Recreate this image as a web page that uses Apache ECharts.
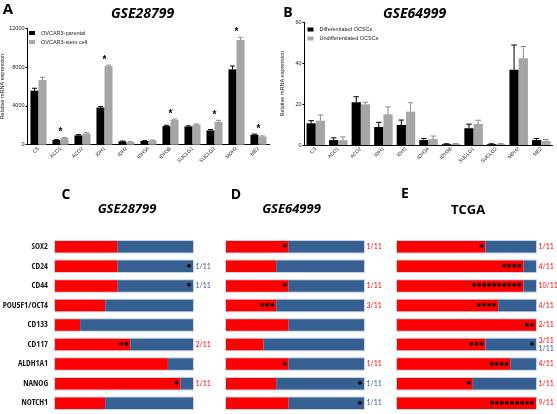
<!DOCTYPE html>
<html><head><meta charset="utf-8">
<script src="https://cdn.jsdelivr.net/npm/echarts@6/dist/echarts.min.js"></script>
<style>html,body{margin:0;padding:0;background:#fff}#c{width:557px;height:414px}</style>
</head><body><div id="c"></div>
<script>
// ---------- Data ----------
const genes = ['CS','ACO1','ACO2','IDH1','IDH2','IDH3A','IDH3B','SUCLG1','SUCLG2','MDH2','ME2'];
// Panel A (GSE28799)
const aParental    = [5570, 480, 960, 3830, 340, 380, 1920, 1880, 1470, 7770, 1030];
const aParentalErr = [250, 60, 80, 100, 40, 40, 80, 60, 100, 340, 70];
const aStem        = [6670, 690, 1160, 8100, 270, 440, 2560, 2080, 2360, 10800, 850];
const aStemErr     = [280, 60, 80, 100, 40, 40, 80, 60, 150, 270, 60];
const aSig = ['', '*', '', '*', '', '', '*', '', '*', '*', '*'];
const aTicks = [0, 4000, 8000, 12000];
// Panel B (GSE64999)
const bDiff       = [10.6, 2.4, 20.9, 8.8, 9.8, 2.4, 0.4, 8.2, 0.4, 36.8, 2.4];
const bDiffErr    = [1.3, 1.1, 2.7, 2.3, 2.4, 0.8, 0.2, 2.0, 0.2, 12.1, 0.8];
const bUndiff     = [11.9, 2.4, 19.9, 15.0, 16.3, 2.9, 0.5, 10.3, 0.5, 42.4, 2.0];
const bUndiffErr  = [2.8, 1.6, 1.0, 3.6, 4.4, 1.5, 0.2, 1.8, 0.2, 5.8, 0.7];
const bTicks = [0, 20, 40, 60];
// Panels C, D, E (counts out of 11)
const markers = ['SOX2','CD24','CD44','POU5F1/OCT4','CD133','CD117','ALDH1A1','NANOG','NOTCH1'];
const TOTAL = 11;
const cHigh = [5, 5, 5, 4, 2, 6, 9, 10, 4];
const dHigh = [5, 4, 5, 4, 5, 3, 5, 4, 5];
const eHigh = [7, 10, 10, 8, 11, 7, 9, 6, 11];
const cSigHigh = [0, 0, 0, 0, 0, 2, 0, 1, 0];
const cSigLow  = [0, 1, 1, 0, 0, 0, 0, 0, 0];
const dSigHigh = [1, 0, 1, 3, 0, 0, 1, 0, 0];
const dSigLow  = [0, 0, 0, 0, 0, 0, 0, 1, 1];
const eSigHigh = [1, 4, 10, 4, 2, 3, 4, 1, 9];
const eSigLow  = [0, 0, 0, 0, 0, 1, 0, 0, 0];

// ---------- Styling ----------
const FONT = "'Liberation Sans', Arial, sans-serif";
const GAP_A = 0.27, GAP_B = 0.18;
const RED = '#ff0000', BLUE = '#376092', BLUE_TXT = '#2f5597';

function errSeries(ax, vals, errs, side, gap, color) {
  return {
    type: 'custom', xAxisIndex: ax, yAxisIndex: ax, silent: true, z: 4,
    encode: { x: 0, y: [1, 2] },
    data: vals.map((v, i) => [i, v, v + errs[i]]),
    renderItem(params, api) {
      const i = api.value(0);
      const bw = api.size([1, 0])[0];
      const barW = bw * (1 - gap) / 2;
      const cx = api.coord([i, 0])[0] + side * barW / 2;
      const y1 = api.coord([i, api.value(1)])[1];
      const y2 = api.coord([i, api.value(2)])[1];
      const cap = barW * 0.3;
      return { type: 'group', children: [
        { type: 'line', shape: { x1: cx, y1: y1, x2: cx, y2: y2 }, style: { stroke: color, lineWidth: 1 } },
        { type: 'line', shape: { x1: cx - cap, y1: y2, x2: cx + cap, y2: y2 }, style: { stroke: color, lineWidth: 1 } }
      ]};
    }
  };
}

function sigSeries(ax, sig, v1, e1, v2, e2) {
  return {
    type: 'custom', xAxisIndex: ax, yAxisIndex: ax, silent: true, z: 6,
    data: sig.map((s, i) => [i, Math.max(v1[i] + e1[i], v2[i] + e2[i]), s]),
    renderItem(params, api) {
      const i = api.value(0);
      const s = sig[i];
      if (!s) return null;
      const p = api.coord([i, api.value(1)]);
      return { type: 'text', style: { text: s, x: p[0], y: p[1] - 5, fontSize: 10, fontWeight: 'bold',
        fontFamily: FONT, fill: '#000', align: 'center', verticalAlign: 'middle' } };
    }
  };
}

function valueAxis(grid, ticks, name) {
  return {
    type: 'value', gridIndex: grid, min: ticks[0], max: ticks[ticks.length - 1], interval: ticks[1] - ticks[0],
    splitLine: { show: false },
    axisLine: { show: true, lineStyle: { color: '#000', width: 1 } },
    axisTick: { show: true, length: 2, lineStyle: { color: '#000' } },
    axisLabel: { fontSize: 5.5, color: '#222', margin: 3, fontFamily: FONT, formatter: v => String(v) },
    name: name, nameLocation: 'middle', nameRotate: 90, nameGap: 19,
    nameTextStyle: { fontSize: 5.5, color: '#222', fontFamily: FONT }
  };
}
function catAxis(grid) {
  return {
    type: 'category', gridIndex: grid, data: genes,
    axisLine: { show: true, lineStyle: { color: '#000', width: 1 } },
    axisTick: { show: false },
    axisLabel: { rotate: 45, fontSize: 5, color: '#222', margin: 3, interval: 0, fontFamily: FONT }
  };
}

function hbarAxesX(grid) {
  return { type: 'value', gridIndex: grid, min: 0, max: TOTAL, show: false };
}
function hbarAxesY(grid, showLabels) {
  return {
    type: 'category', gridIndex: grid, data: markers, inverse: true,
    axisLine: { show: false }, axisTick: { show: false },
    axisLabel: { show: showLabels, fontSize: 8.5, fontWeight: 'bold', color: '#1a1a1a', margin: 7,
      fontFamily: "'Liberation Sans Narrow', 'Arial Narrow', 'Open Sans Condensed', sans-serif" }
  };
}
function hbarSeries(ax, high, stackName) {
  const common = { type: 'bar', xAxisIndex: ax, yAxisIndex: ax, stack: stackName, barWidth: 11.5, silent: true };
  return [
    Object.assign({}, common, { data: high, itemStyle: { color: RED },
      showBackground: true, backgroundStyle: { color: 'rgba(0,0,0,0)', borderColor: '#c8d3e6', borderWidth: 2 } }),
    Object.assign({}, common, { data: high.map(h => TOTAL - h), itemStyle: { color: BLUE } })
  ];
}
function starSeries(ax, high, sh, sl) {
  return {
    type: 'custom', xAxisIndex: ax, yAxisIndex: ax, silent: true, z: 8,
    data: high.map((h, i) => [h, i, sh[i], sl[i]]),
    renderItem(params, api) {
      const red = api.value(0), row = api.value(1), nh = api.value(2), nl = api.value(3);
      const pRed = api.coord([red, row]);
      const pEnd = api.coord([TOTAL, row]);
      const ch = [];
      const star = (x, y) => ({ type: 'text', style: { text: '\u2731', x: x, y: y, fontSize: 6, fill: '#000',
        fontFamily: 'DejaVu Sans', align: 'center', verticalAlign: 'middle' } });
      for (let k = 0; k < nh; k++) ch.push(star(pRed[0] - 4 - k * 5, pRed[1]));
      for (let k = 0; k < nl; k++) ch.push(star(pEnd[0] - 4 - k * 5, pEnd[1]));
      const lab = (t, y, c) => ({ type: 'text', style: { text: t, x: pEnd[0] + 2.5, y: y, fontSize: 7, fill: c,
        fontFamily: 'Lato', align: 'left', verticalAlign: 'middle' } });
      if (nh && nl) {
        ch.push(lab(nh + '/' + TOTAL, pEnd[1] - 4, RED));
        ch.push(lab(nl + '/' + TOTAL, pEnd[1] + 4, BLUE_TXT));
      } else if (nh) {
        ch.push(lab(nh + '/' + TOTAL, pEnd[1], RED));
      } else if (nl) {
        ch.push(lab(nl + '/' + TOTAL, pEnd[1], BLUE_TXT));
      }
      return { type: 'group', children: ch };
    }
  };
}

function t(text, x, y, size, italic) {
  return { type: 'text', x: x, y: y, style: { text: text, fontSize: size, fontWeight: 'bold',
    fontStyle: italic ? 'italic' : 'normal', fontFamily: "'Open Sans', sans-serif", fill: '#000',
    align: 'center', verticalAlign: 'middle' } };
}

const G = (o) => Object.assign({ outerBoundsMode: 'none', containLabel: false }, o);
const option = {
  backgroundColor: '#fff',
  animation: false,
  textStyle: { fontFamily: FONT },
  grid: [
    G({ left: 27.5, top: 28.3, width: 242, height: 116.4 }),
    G({ left: 304.5, top: 22.3, width: 248, height: 122.7 }),
    G({ left: 55, top: 237, width: 138, height: 176 }),
    G({ left: 226, top: 237, width: 138, height: 176 }),
    G({ left: 397, top: 237, width: 139, height: 176 })
  ],
  legend: [
    { data: ['OVCAR3-parental', 'OVCAR3-stem cell'], left: 29, top: 30, orient: 'vertical', icon: 'rect',
      itemWidth: 6, itemHeight: 4, itemGap: 3, padding: 0, textStyle: { fontSize: 5.5, color: '#222', padding: [0, 0, 0, 1] } },
    { data: ['Differentiated OCSCs', 'Undifferentiated OCSCs'], left: 307.5, top: 26.5, orient: 'vertical', icon: 'rect',
      itemWidth: 6, itemHeight: 4, itemGap: 3, padding: 0, textStyle: { fontSize: 5.5, color: '#222', padding: [0, 0, 0, 1] } }
  ],
  xAxis: [catAxis(0), catAxis(1), hbarAxesX(2), hbarAxesX(3), hbarAxesX(4)],
  yAxis: [valueAxis(0, aTicks, 'Relative mRNA expression'), valueAxis(1, bTicks, 'Relative mRNA expression'),
          hbarAxesY(2, true), hbarAxesY(3, false), hbarAxesY(4, false)],
  series: [
    { name: 'OVCAR3-parental', type: 'bar', xAxisIndex: 0, yAxisIndex: 0, data: aParental,
      itemStyle: { color: '#000' }, barGap: '0%', barCategoryGap: (GAP_A * 100) + '%' },
    { name: 'OVCAR3-stem cell', type: 'bar', xAxisIndex: 0, yAxisIndex: 0, data: aStem,
      itemStyle: { color: '#a6a6a6' }, barGap: '0%', barCategoryGap: (GAP_A * 100) + '%' },
    errSeries(0, aParental, aParentalErr, -1, GAP_A, '#000'),
    errSeries(0, aStem, aStemErr, 1, GAP_A, '#8c8c8c'),
    sigSeries(0, aSig, aParental, aParentalErr, aStem, aStemErr),
    { name: 'Differentiated OCSCs', type: 'bar', xAxisIndex: 1, yAxisIndex: 1, data: bDiff,
      itemStyle: { color: '#000' }, barGap: '0%', barCategoryGap: (GAP_B * 100) + '%' },
    { name: 'Undifferentiated OCSCs', type: 'bar', xAxisIndex: 1, yAxisIndex: 1, data: bUndiff,
      itemStyle: { color: '#a6a6a6' }, barGap: '0%', barCategoryGap: (GAP_B * 100) + '%' },
    errSeries(1, bDiff, bDiffErr, -1, GAP_B, '#000'),
    errSeries(1, bUndiff, bUndiffErr, 1, GAP_B, '#8c8c8c'),
    ...hbarSeries(2, cHigh, 'c'),
    ...hbarSeries(3, dHigh, 'd'),
    ...hbarSeries(4, eHigh, 'e'),
    starSeries(2, cHigh, cSigHigh, cSigLow),
    starSeries(3, dHigh, dSigHigh, dSigLow),
    starSeries(4, eHigh, eSigHigh, eSigLow)
  ],
  graphic: [
    t('A', 8, 10, 15, false),
    t('GSE28799', 142.5, 14, 14, true),
    t('B', 288, 13, 14, false),
    t('GSE64999', 414.5, 14, 14, true),
    t('C', 66, 195, 14, false),
    t('GSE28799', 127, 209, 13, true),
    t('D', 236, 195, 14, false),
    t('GSE64999', 291.5, 209, 13, true),
    t('E', 405, 194, 14, false),
    t('TCGA', 468, 210.5, 13, false)
  ]
};
const chart = echarts.init(document.getElementById('c'));
chart.setOption(option);
</script>
</body></html>
